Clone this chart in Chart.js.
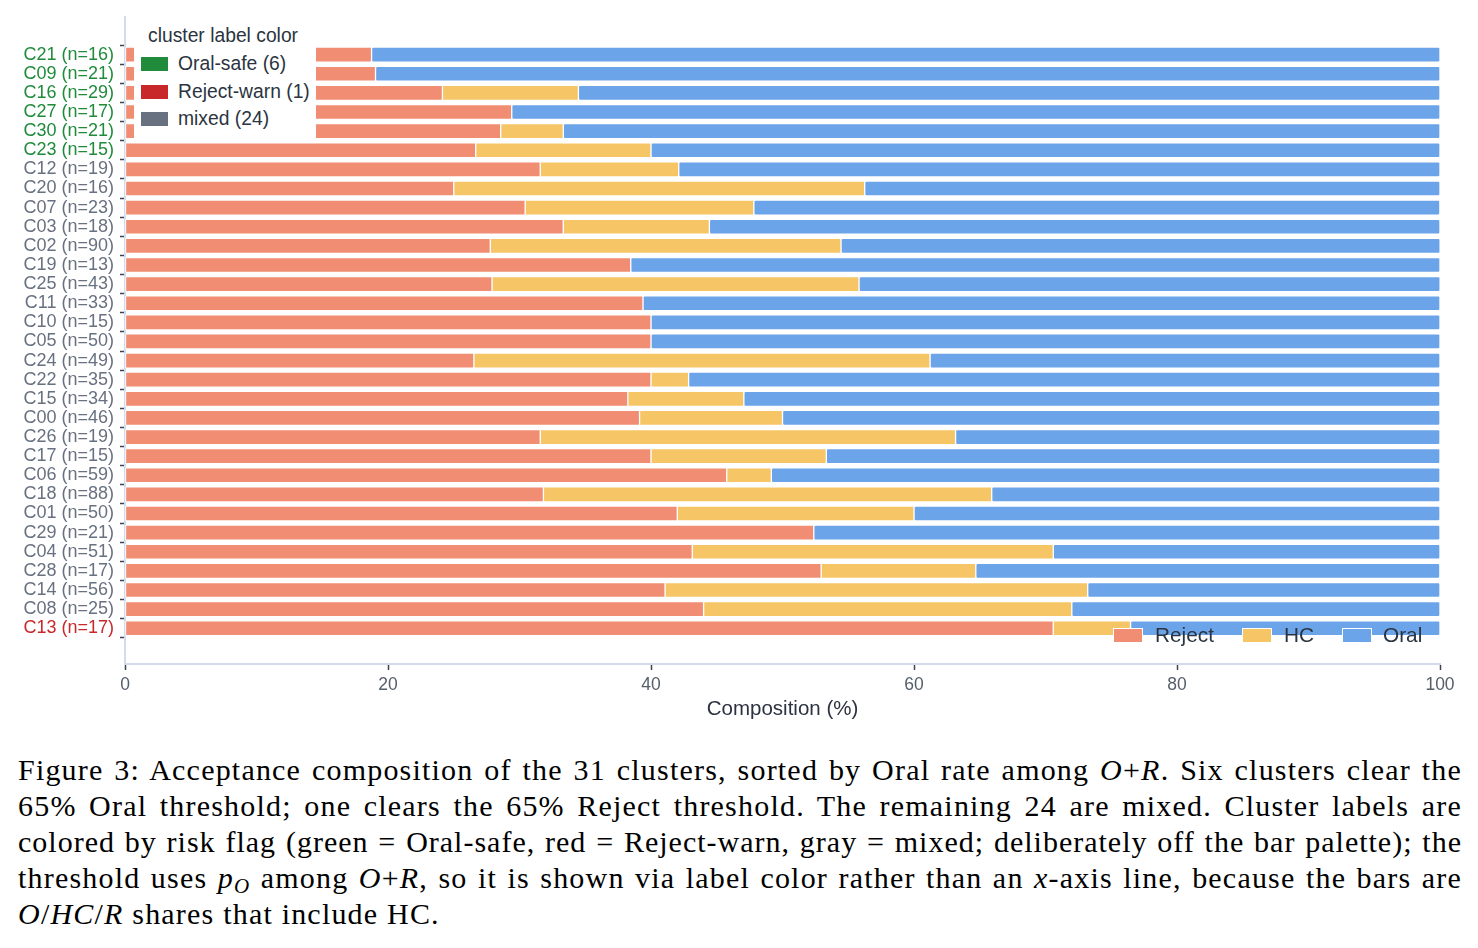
<!DOCTYPE html>
<html>
<head>
<meta charset="utf-8">
<script src="https://cdn.jsdelivr.net/npm/chart.js@4.4.1/dist/chart.umd.min.js"></script>
<style>
  html, body { margin: 0; padding: 0; background: #fff; }
  body { width: 1478px; height: 948px; position: relative; overflow: hidden; font-family: "Liberation Sans", Arial, sans-serif; }
  #wrap { position: absolute; left: 0; top: 0; width: 1478px; height: 730px; }
  canvas { display: block; }
  .lg1 { position: absolute; left: 134px; top: 20px; width: 182px; height: 118px; background: #fff; }
  .lg1 .title { position: absolute; left: 14px; top: 4px; font-size: 19.3px; color: #2b3440; line-height: 24px; white-space: nowrap; }
  .lg1 .sw { position: absolute; left: 7px; width: 27px; height: 14px; }
  .lg1 .tx { position: absolute; left: 44px; font-size: 19.3px; color: #2b3440; line-height: 24px; white-space: nowrap; }
  .lg2sw { position: absolute; width: 30px; height: 15px; box-sizing: border-box; border: 1px solid #fff; }
  .lg2tx { position: absolute; font-size: 20.8px; color: #2b3440; line-height: 24px; white-space: nowrap; }
  #cap { position: absolute; left: 18px; top: 752px; width: 1444px; font-family: "Liberation Serif", "DejaVu Serif", serif; font-size: 30px; line-height: 36px; color: #000; }
  #cap .ln { text-align: justify; text-align-last: justify; white-space: nowrap; }
  #cap .ln.last { text-align-last: left; }
</style>
</head>
<body>
<div id="wrap"><canvas id="c" width="1478" height="730"></canvas></div>
<div id="legends"></div>
<div id="cap">
  <div class="ln">Figure 3: Acceptance composition of the 31 clusters, sorted by Oral rate among <i>O</i>+<i>R</i>. Six clusters clear the</div>
  <div class="ln">65% Oral threshold; one clears the 65% Reject threshold. The remaining 24 are mixed. Cluster labels are</div>
  <div class="ln">colored by risk flag (green = Oral-safe, red = Reject-warn, gray = mixed; deliberately off the bar palette); the</div>
  <div class="ln">threshold uses <i>p<sub style="font-size:21px;vertical-align:-5px;line-height:0">O</sub></i> among <i>O</i>+<i>R</i>, so it is shown via label color rather than an <i>x</i>-axis line, because the bars are</div>
  <div class="ln last"><i>O</i>/<i>HC</i>/<i>R</i> shares that include HC.</div>
</div>
<script>
// ---- data ----
const categories = [
  'C21 (n=16)','C09 (n=21)','C16 (n=29)','C27 (n=17)','C30 (n=21)','C23 (n=15)',
  'C12 (n=19)','C20 (n=16)','C07 (n=23)','C03 (n=18)','C02 (n=90)','C19 (n=13)',
  'C25 (n=43)','C11 (n=33)','C10 (n=15)','C05 (n=50)','C24 (n=49)','C22 (n=35)',
  'C15 (n=34)','C00 (n=46)','C26 (n=19)','C17 (n=15)','C06 (n=59)','C18 (n=88)',
  'C01 (n=50)','C29 (n=21)','C04 (n=51)','C28 (n=17)','C14 (n=56)','C08 (n=25)',
  'C13 (n=17)'
];
const rejectPct = [18.75,19.05,24.14,29.41,28.57,26.67,31.58,25.00,30.43,33.33,27.78,38.46,
  27.91,39.39,40.00,40.00,26.53,40.00,38.24,39.13,31.58,40.00,45.76,31.82,42.00,52.38,
  43.14,52.94,41.07,44.00,70.59];
const hcPct = [0,0,10.34,0,4.76,13.33,10.53,31.25,17.39,11.11,26.67,0,
  27.91,0,0,0,34.69,2.86,8.82,10.87,31.58,13.33,3.39,34.09,18.00,0,
  27.45,11.76,32.14,28.00,5.88];
const oralPct = [81.25,80.95,65.52,70.59,66.67,60.00,57.89,43.75,52.17,55.56,45.56,61.54,
  44.19,60.61,60.00,60.00,38.78,57.14,52.94,50.00,36.84,46.67,50.85,34.09,40.00,47.62,
  29.41,35.29,26.79,28.00,23.53];
const flags = ['safe','safe','safe','safe','safe','safe',
  'mixed','mixed','mixed','mixed','mixed','mixed','mixed','mixed','mixed','mixed','mixed','mixed',
  'mixed','mixed','mixed','mixed','mixed','mixed','mixed','mixed','mixed','mixed','mixed','mixed',
  'warn'];
const xTicks = [0, 20, 40, 60, 80, 100];
const seriesNames = ['Reject', 'HC', 'Oral'];
const seriesColors = ['#f08d72', '#f5c566', '#6ba4e9'];
const flagNames = ['Oral-safe', 'Reject-warn', 'mixed'];
const flagKeys = ['safe', 'warn', 'mixed'];
const flagColors = { safe: '#1f8b3b', warn: '#c9282a', mixed: '#687180' };

// ---- chart ----
const seriesValues = [rejectPct, hcPct, oralPct];
const datasets = seriesNames.map((name, s) => ({
  label: name,
  data: seriesValues[s].map((v, i) => ({ x: v, y: i })),
  backgroundColor: seriesColors[s],
  borderColor: '#ffffff',
  borderWidth: 1,
  borderSkipped: false,
  borderRadius: 2,
  barThickness: 15
}));

const FONT = '"Liberation Sans", Arial, sans-serif';
new Chart(document.getElementById('c'), {
  type: 'bar',
  data: { datasets },
  options: {
    indexAxis: 'y',
    responsive: false,
    animation: false,
    events: [],
    layout: { padding: { left: 0, right: 38, top: 13, bottom: 0 } },
    plugins: { legend: { display: false }, tooltip: { enabled: false } },
    scales: {
      x: {
        type: 'linear', stacked: true, min: 0, max: 100, offset: false,
        afterBuildTicks: (s) => { s.ticks = xTicks.map(v => ({ value: v })); },
        afterFit: (s) => { s.height = 66; },
        ticks: { color: '#555e6b', font: { family: FONT, size: 17.5 }, padding: 5 },
        grid: { display: true, drawOnChartArea: false, drawTicks: true, tickLength: 6, tickColor: '#3c4450', tickWidth: 1.5 },
        border: { display: true, color: '#d3daea', width: 2 },
        title: { display: true, text: 'Composition (%)', color: '#2b3340', font: { family: FONT, size: 20.5 }, padding: { top: 0, bottom: 8 } }
      },
      y: {
        type: 'linear', stacked: true, reverse: true, min: -1.98, max: 31.87, offset: false,
        afterBuildTicks: (s) => { s.ticks = categories.map((c, i) => ({ value: i })); },
        afterFit: (s) => { s.width = 125; },
        ticks: {
          autoSkip: false,
          padding: 6,
          font: { family: FONT, size: 18 },
          color: (ctx) => flagColors[flags[ctx.tick ? ctx.tick.value : ctx.index]],
          callback: (v) => categories[v]
        },
        grid: { display: true, drawOnChartArea: false, drawTicks: true, tickLength: 5, tickColor: '#3c4450', tickWidth: 1.5 },
        border: { display: true, color: '#d3daea', width: 2 }
      }
    }
  }
});

// ---- legends (HTML) ----
const lg = document.getElementById('legends');
const counts = flagKeys.map(k => flags.filter(f => f === k).length);
let h = '<div class="lg1"><div class="title">cluster label color</div>';
const rowCenters = [44, 72, 99];
flagKeys.forEach((k, i) => {
  h += '<div class="sw" style="top:' + (rowCenters[i] - 7) + 'px;background:' + flagColors[k] + '"></div>';
  h += '<div class="tx" style="top:' + (rowCenters[i] - 12) + 'px">' + flagNames[i] + ' (' + counts[i] + ')</div>';
});
h += '</div>';
const swX = [1113, 1242, 1342];
const txX = [1155, 1284, 1383];
seriesNames.forEach((n, i) => {
  h += '<div class="lg2sw" style="left:' + swX[i] + 'px;top:628px;background:' + seriesColors[i] + '"></div>';
  h += '<div class="lg2tx" style="left:' + txX[i] + 'px;top:623px">' + n + '</div>';
});
lg.innerHTML = h;

// ---- caption: widen glyph spacing to mimic the wider serif face, keeping lines within width ----
document.querySelectorAll('#cap .ln').forEach((ln) => {
  const probe = document.createElement('span');
  probe.innerHTML = ln.innerHTML;
  probe.style.whiteSpace = 'nowrap';
  probe.style.position = 'absolute';
  probe.style.visibility = 'hidden';
  ln.parentNode.appendChild(probe);
  let ls = 1.2;
  for (; ls > 0; ls -= 0.1) {
    probe.style.letterSpacing = ls + 'px';
    if (probe.getBoundingClientRect().width <= 1444 - 16) break;
  }
  ln.style.letterSpacing = Math.max(ls, 0) + 'px';
  probe.remove();
});
</script>
</body>
</html>
